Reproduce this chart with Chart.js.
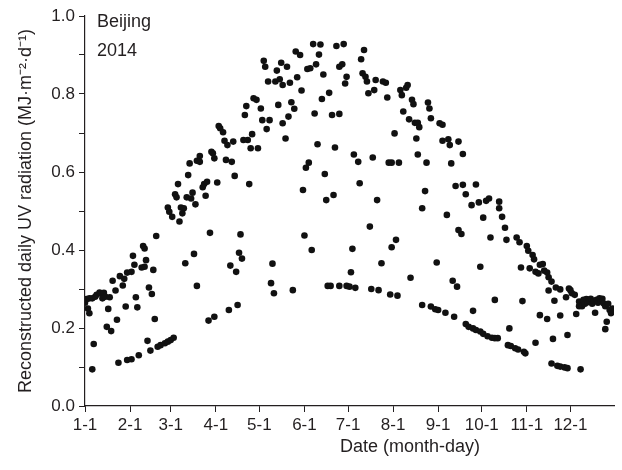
<!DOCTYPE html>
<html>
<head>
<meta charset="utf-8">
<script src="https://cdn.jsdelivr.net/npm/chart.js@4.4.1/dist/chart.umd.min.js"></script>
<style>
  body { margin: 0; background: #fff; }
</style>
</head>
<body>
<canvas id="uvChart" width="622" height="470"></canvas>
<script>
// x axis: day of year, labelled at the first day of each month
var monthStarts = [1, 32, 60, 91, 121, 152, 182, 213, 244, 274, 305, 335];
var monthLabels = ["1-1", "2-1", "3-1", "4-1", "5-1", "6-1", "7-1", "8-1", "9-1", "10-1", "11-1", "12-1"];

// reconstructed daily UV (day of year -> MJ m-2 d-1)
var days = [
  1, 2, 3, 4, 4, 6, 6, 7, 8, 9, 11, 12, 13, 14, 15, 16, 17, 18, 19, 20,
  22, 23, 24, 25, 27, 28, 29, 30, 30, 33, 33, 34, 35, 36, 37, 38, 40, 41, 42, 42,
  43, 44, 45, 46, 47, 48, 49, 50, 51, 53, 56, 58, 58, 59, 60, 61, 62,
  63, 64, 65, 66, 67, 68, 69, 70, 71, 72,
  73, 74, 75, 76, 77, 78, 78, 80, 80, 82,
  83, 84, 85, 86, 87, 88, 89, 90, 90, 92,
  93, 94, 96, 97, 98, 99, 100, 101, 102, 103,
  104, 105, 106, 107, 108, 109, 110, 111, 112, 113,
  114, 115, 116, 120,
  117, 119, 122, 123, 124, 125, 126, 127, 128, 129,
  130, 131, 132, 133, 134, 135, 136, 137, 137, 139,
  140, 141, 142, 143, 144, 145, 146, 147, 149, 150,
  151, 152, 153, 154, 155, 156, 157, 158, 159, 160,
  161, 162, 163, 164, 165, 166, 167, 168, 169, 170,
  171, 172, 173, 174, 176, 176, 176, 178, 179, 180,
  181, 181,
  183, 184, 185, 186, 187, 189, 190, 191, 192, 193,
  194, 195, 196, 197, 198, 199, 200, 201, 202, 203,
  205, 206, 208, 209, 210, 211, 212, 212, 214, 215,
  216, 217, 218, 219, 220, 222, 223, 224, 225, 226,
  227, 228, 229, 230, 230, 231, 233, 233, 235, 236,
  237, 238, 239, 239, 243, 245,
  242, 244, 247, 247, 249, 250, 251, 252, 253, 254,
  255, 256, 257, 258, 258, 260, 261, 261, 263, 263,
  265, 267, 268, 268, 270, 270, 272, 273, 273, 275,
  275, 277, 278, 279, 280, 281, 283, 283, 285, 286,
  286, 288, 290, 291, 292, 293, 294, 297, 298, 299,
  300, 301, 302, 305, 306, 307,
  303, 304, 309, 310, 311, 311, 313, 314, 314, 316,
  317, 319, 319, 320, 320, 322, 322, 323, 324, 325,
  326, 328, 328, 328, 331, 332, 333, 333, 334, 335,
  336, 338, 339, 341, 341, 342, 343, 344, 345, 346,
  347, 348, 349, 350, 351, 352, 353, 354, 355, 356,
  357, 358, 359, 359, 360, 361, 362, 363, 364, 365
];
var uvValues = [
  0.265, 0.274, 0.250, 0.276, 0.238, 0.276, 0.094, 0.159, 0.280, 0.285, 0.291, 0.289, 0.276, 0.290, 0.280, 0.203, 0.249, 0.279, 0.192, 0.321,
  0.296, 0.221, 0.111, 0.333, 0.309, 0.326, 0.255, 0.342, 0.118, 0.344, 0.120, 0.385, 0.362, 0.279, 0.253, 0.130, 0.355, 0.410, 0.404, 0.357,
  0.374, 0.167, 0.304, 0.142, 0.287, 0.349, 0.223, 0.436, 0.152, 0.156, 0.161, 0.165, 0.509, 0.498, 0.169, 0.485, 0.175,
  0.543, 0.535, 0.569, 0.473, 0.509, 0.494, 0.507, 0.366, 0.535, 0.592,
  0.622, 0.532, 0.547, 0.390, 0.517, 0.629, 0.308, 0.641, 0.626, 0.561,
  0.569, 0.539, 0.575, 0.219, 0.444, 0.652, 0.648, 0.635, 0.229, 0.573,
  0.718, 0.712, 0.702, 0.680, 0.631, 0.669, 0.246, 0.360, 0.626, 0.678,
  0.590, 0.344, 0.259, 0.393, 0.440, 0.378, 0.682, 0.746, 0.769, 0.682,
  0.569, 0.661, 0.697, 0.661,
  0.789, 0.785, 0.763, 0.733, 0.885, 0.870, 0.710, 0.832, 0.733, 0.315,
  0.365, 0.289, 0.832, 0.860, 0.772, 0.838, 0.880, 0.725, 0.823, 0.686,
  0.870, 0.742, 0.829, 0.779, 0.297, 0.762, 0.909, 0.843, 0.900, 0.809,
  0.554, 0.437, 0.611, 0.864, 0.624, 0.866, 0.400, 0.928, 0.750, 0.876,
  0.671, 0.901, 0.927, 0.787, 0.850, 0.595, 0.528, 0.308, 0.803, 0.308,
  0.746, 0.541, 0.663, 0.923, 0.308, 0.870, 0.749, 0.876, 0.928, 0.827,
  0.844, 0.308,
  0.306, 0.343, 0.403, 0.645, 0.303, 0.626, 0.571, 0.889, 0.853, 0.913,
  0.844, 0.832, 0.802, 0.460, 0.300, 0.637, 0.810, 0.836, 0.528, 0.297,
  0.366, 0.832, 0.829, 0.791, 0.624, 0.286, 0.624, 0.407, 0.699, 0.426,
  0.283, 0.624, 0.810, 0.797, 0.755, 0.816, 0.823, 0.735, 0.329, 0.785,
  0.774, 0.726, 0.686, 0.726, 0.645, 0.715, 0.507, 0.259, 0.551, 0.624,
  0.778, 0.763, 0.738, 0.255, 0.368, 0.725,
  0.248, 0.246, 0.721, 0.680, 0.239, 0.490, 0.684, 0.669, 0.622, 0.321,
  0.229, 0.564, 0.306, 0.678, 0.451, 0.441, 0.646, 0.567, 0.543, 0.210,
  0.203, 0.515, 0.244, 0.199, 0.568, 0.195, 0.522, 0.357, 0.191, 0.483,
  0.185, 0.526, 0.179, 0.532, 0.432, 0.175, 0.272, 0.174, 0.174, 0.524,
  0.507, 0.485, 0.457, 0.426, 0.156, 0.199, 0.154, 0.148, 0.432, 0.145,
  0.420, 0.355, 0.269, 0.410, 0.398, 0.353,
  0.139, 0.135, 0.387, 0.376, 0.344, 0.162, 0.340, 0.362, 0.233, 0.364,
  0.347, 0.342, 0.223, 0.330, 0.296, 0.319, 0.109, 0.172, 0.270, 0.304,
  0.103, 0.299, 0.232, 0.101, 0.099, 0.279, 0.182, 0.097, 0.301, 0.297,
  0.289, 0.285, 0.236, 0.268, 0.256, 0.094, 0.256, 0.272, 0.262, 0.274,
  0.266, 0.270, 0.275, 0.262, 0.269, 0.239, 0.272, 0.265, 0.276, 0.270,
  0.275, 0.263, 0.256, 0.197, 0.216, 0.262, 0.246, 0.238, 0.250, 0.243
];

var inkColor = "#231f20";
Chart.defaults.font.family = '"Liberation Sans", Arial, sans-serif';
Chart.defaults.color = inkColor;

// text that sits on the plot: station/year and the x title
var extraText = {
  id: "extraText",
  afterDraw: function(chart) {
    var ctx = chart.ctx;
    var area = chart.chartArea;
    ctx.save();
    ctx.fillStyle = inkColor;
    ctx.font = '18px "Liberation Sans", Arial, sans-serif';
    ctx.textBaseline = "top";
    ctx.textAlign = "left";
    ctx.fillText("Beijing", area.left + 12, area.top - 3);
    ctx.fillText("2014", area.left + 12, area.top + 26);
    ctx.textAlign = "center";
    ctx.fillText("Date (month-day)", 410, 438);
    ctx.restore();
  }
};

var points = days.map(function(d, i) {
  return {x: d, y: uvValues[i]};
});

new Chart(document.getElementById("uvChart"), {
  type: "scatter",
  data: {
    datasets: [{
      data: points,
      backgroundColor: "#111",
      borderWidth: 0,
      pointRadius: 3.3
    }]
  },
  options: {
    responsive: false,
    animation: false,
    devicePixelRatio: 1,
    layout: {padding: {top: 16, right: 8, left: 0, bottom: 0}},
    plugins: {
      legend: {display: false},
      tooltip: {enabled: false}
    },
    scales: {
      x: {
        type: "linear",
        min: 1,
        max: 365,
        afterBuildTicks: function(axis) {
          axis.ticks = monthStarts.map(function(v) { return {value: v}; });
        },
        afterFit: function(scale) { scale.height = 64; },
        ticks: {
          autoSkip: false,
          maxRotation: 0,
          padding: 3,
          font: {size: 17},
          callback: function(value, index) { return monthLabels[index]; }
        },
        grid: {drawOnChartArea: false, tickLength: 6, color: inkColor},
        border: {color: inkColor, width: 1.2}
      },
      y: {
        min: 0,
        max: 1,
        afterFit: function(scale) { scale.width = 85; },
        ticks: {
          stepSize: 0.1,
          padding: 4,
          font: {size: 17},
          callback: function(value) {
            var n = Math.round(value * 10);
            return n % 2 === 0 ? (n / 10).toFixed(1) : "";
          }
        },
        grid: {drawOnChartArea: false, tickLength: 6, color: inkColor},
        border: {color: inkColor, width: 1.2},
        title: {
          display: true,
          text: "Reconstructed daily UV radiation (MJ\u00b7m\u207b\u00b2\u00b7d\u207b\u00b9)",
          font: {size: 18},
          padding: {top: 15, bottom: 0}
        }
      }
    }
  },
  plugins: [extraText]
});
</script>
</body>
</html>
